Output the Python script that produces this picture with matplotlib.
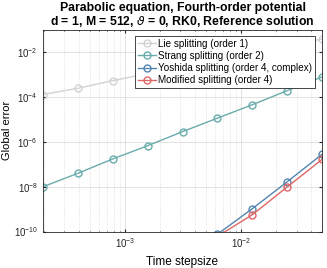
import numpy as np
import matplotlib
matplotlib.use("Agg")
import matplotlib.pyplot as plt

# Time step sizes (T = 0.1, N = 2 ... 512)
stepsizes = [0.1 / 2**k for k in range(9, 0, -1)]

# log10 of global errors
lie_log = [-3.90, -3.62, -3.28, -2.97, -2.66, -2.35, -2.04, -1.73, -1.42]
strang_log = [-8.01, -7.41, -6.77, -6.18, -5.55, -4.95, -4.35, -3.72, -3.11]
yoshida_log = [np.nan, np.nan, np.nan, np.nan, np.nan, -10.12, -8.98, -7.78, -6.55]
modified_log = [np.nan, np.nan, np.nan, np.nan, np.nan, -10.22, -9.25, -8.01, -6.78]

labels = ["Lie splitting (order 1)", "Strang splitting (order 2)",
          "Yoshida splitting (order 4, complex)", "Modified splitting (order 4)"]
colors = ["#d2d2d2", "#6aabac", "#5285b0", "#e06666"]

plt.rcParams['font.family'] = ['Liberation Sans', 'DejaVu Sans']
plt.rcParams['mathtext.fontset'] = 'dejavusans'

fig = plt.figure(figsize=(3.27, 2.68), dpi=100)
ax = fig.add_axes([42.7/327, 1 - 231.5/268, (322.3-42.7)/327, (231.5-29.5)/268])

for vals, lab, col in zip([lie_log, strang_log, yoshida_log, modified_log], labels, colors):
    y = 10.0 ** np.array(vals)
    ax.loglog(stepsizes, y, '-o', color=col, lw=1.0, markersize=5,
              markerfacecolor='none', markeredgewidth=1.0, label=lab)

ax.set_xlim(stepsizes[0], stepsizes[-1])
ax.set_ylim(1e-10, 1e-1)
ax.set_yticks([1e-10, 1e-8, 1e-6, 1e-4, 1e-2])
ax.set_xticks([1e-3, 1e-2])
ax.grid(True, which='major', color='#d6d6d6', lw=0.5)
ax.grid(True, which='minor', color='#d0d0d0', lw=0.5, ls=':')
ax.tick_params(which='both', direction='in', top=True, right=True, labelsize=7, colors='#262626', length=2)
ax.tick_params(which='minor', length=1)
for s in ax.spines.values():
    s.set_color('#262626')
    s.set_linewidth(0.6)

ax.set_xlabel("Time stepsize", fontsize=8.5, labelpad=4)
ax.set_ylabel("Global error", fontsize=8, labelpad=1)
ax.set_title("Parabolic equation, Fourth-order potential\n"
             r"d = 1, M = 512, $\vartheta$ = 0, RK0, Reference solution",
             fontsize=8.8, fontweight='bold', pad=3, linespacing=1.05)

leg = ax.legend(loc='upper right', fontsize=7.1, frameon=True, fancybox=False,
                edgecolor='#262626', framealpha=1, borderpad=0.3, labelspacing=0.22,
                handlelength=1.8, handletextpad=0.25, borderaxespad=0.0,
                bbox_to_anchor=((315-42.7)/(322.3-42.7), (231.5-35.7)/(231.5-29.5)))
leg.get_frame().set_linewidth(0.6)

fig.savefig("out.png", dpi=100)
